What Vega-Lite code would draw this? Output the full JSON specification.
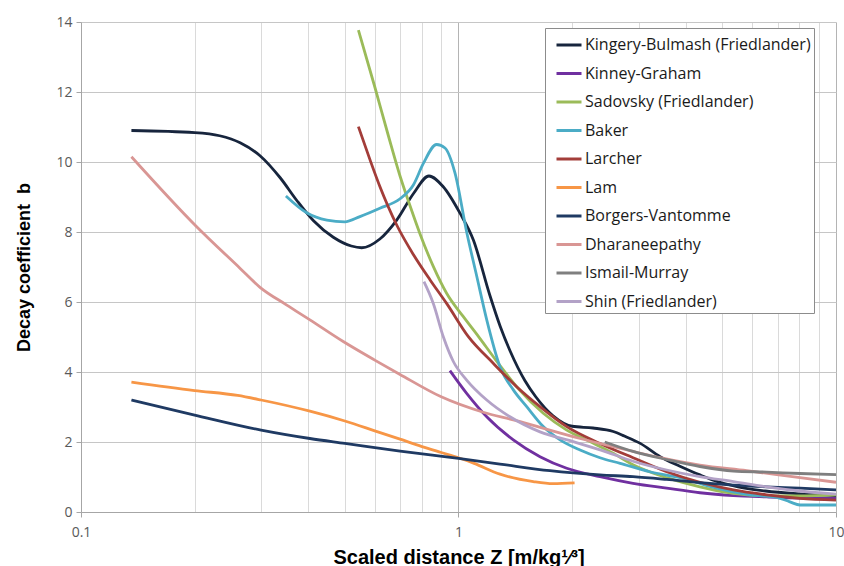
{
  "$schema": "https://vega.github.io/schema/vega-lite/v6.json",
  "autosize": {"type": "none"},
  "padding": {"left": 81, "top": 22, "right": 8, "bottom": 54},
  "width": 755,
  "height": 490,
  "background": "white",
  "config": {"view": {"stroke": null}},
  "data": {"values": [
    {"model": "Kingery-Bulmash (Friedlander)", "z": 0.136, "b": 10.9},
    {"model": "Kingery-Bulmash (Friedlander)", "z": 0.2, "b": 10.84},
    {"model": "Kingery-Bulmash (Friedlander)", "z": 0.233, "b": 10.75},
    {"model": "Kingery-Bulmash (Friedlander)", "z": 0.264, "b": 10.55},
    {"model": "Kingery-Bulmash (Friedlander)", "z": 0.298, "b": 10.18},
    {"model": "Kingery-Bulmash (Friedlander)", "z": 0.337, "b": 9.55},
    {"model": "Kingery-Bulmash (Friedlander)", "z": 0.373, "b": 8.9},
    {"model": "Kingery-Bulmash (Friedlander)", "z": 0.413, "b": 8.32},
    {"model": "Kingery-Bulmash (Friedlander)", "z": 0.466, "b": 7.85},
    {"model": "Kingery-Bulmash (Friedlander)", "z": 0.52, "b": 7.6},
    {"model": "Kingery-Bulmash (Friedlander)", "z": 0.554, "b": 7.55},
    {"model": "Kingery-Bulmash (Friedlander)", "z": 0.619, "b": 7.8},
    {"model": "Kingery-Bulmash (Friedlander)", "z": 0.686, "b": 8.34},
    {"model": "Kingery-Bulmash (Friedlander)", "z": 0.76, "b": 9.1},
    {"model": "Kingery-Bulmash (Friedlander)", "z": 0.835, "b": 9.6},
    {"model": "Kingery-Bulmash (Friedlander)", "z": 0.91, "b": 9.3},
    {"model": "Kingery-Bulmash (Friedlander)", "z": 1.01, "b": 8.53},
    {"model": "Kingery-Bulmash (Friedlander)", "z": 1.095, "b": 7.77},
    {"model": "Kingery-Bulmash (Friedlander)", "z": 1.21, "b": 6.2},
    {"model": "Kingery-Bulmash (Friedlander)", "z": 1.29, "b": 5.3},
    {"model": "Kingery-Bulmash (Friedlander)", "z": 1.37, "b": 4.6},
    {"model": "Kingery-Bulmash (Friedlander)", "z": 1.5, "b": 3.75},
    {"model": "Kingery-Bulmash (Friedlander)", "z": 1.6, "b": 3.3},
    {"model": "Kingery-Bulmash (Friedlander)", "z": 1.78, "b": 2.75},
    {"model": "Kingery-Bulmash (Friedlander)", "z": 2.0, "b": 2.45},
    {"model": "Kingery-Bulmash (Friedlander)", "z": 2.27, "b": 2.4},
    {"model": "Kingery-Bulmash (Friedlander)", "z": 2.57, "b": 2.3},
    {"model": "Kingery-Bulmash (Friedlander)", "z": 2.75, "b": 2.17},
    {"model": "Kingery-Bulmash (Friedlander)", "z": 3.03, "b": 1.96},
    {"model": "Kingery-Bulmash (Friedlander)", "z": 3.42, "b": 1.58},
    {"model": "Kingery-Bulmash (Friedlander)", "z": 3.86, "b": 1.31},
    {"model": "Kingery-Bulmash (Friedlander)", "z": 4.36, "b": 1.06},
    {"model": "Kingery-Bulmash (Friedlander)", "z": 4.73, "b": 0.91},
    {"model": "Kingery-Bulmash (Friedlander)", "z": 5.5, "b": 0.72},
    {"model": "Kingery-Bulmash (Friedlander)", "z": 6.5, "b": 0.6},
    {"model": "Kingery-Bulmash (Friedlander)", "z": 8.0, "b": 0.52},
    {"model": "Kingery-Bulmash (Friedlander)", "z": 10.0, "b": 0.47},

    {"model": "Kinney-Graham", "z": 0.949, "b": 4.04},
    {"model": "Kinney-Graham", "z": 1.051, "b": 3.39},
    {"model": "Kinney-Graham", "z": 1.188, "b": 2.72},
    {"model": "Kinney-Graham", "z": 1.397, "b": 2.06},
    {"model": "Kinney-Graham", "z": 1.644, "b": 1.58},
    {"model": "Kinney-Graham", "z": 1.935, "b": 1.25},
    {"model": "Kinney-Graham", "z": 2.37, "b": 1.01},
    {"model": "Kinney-Graham", "z": 2.9, "b": 0.82},
    {"model": "Kinney-Graham", "z": 3.56, "b": 0.68},
    {"model": "Kinney-Graham", "z": 4.36, "b": 0.55},
    {"model": "Kinney-Graham", "z": 5.35, "b": 0.47},
    {"model": "Kinney-Graham", "z": 6.55, "b": 0.43},
    {"model": "Kinney-Graham", "z": 8.03, "b": 0.4},
    {"model": "Kinney-Graham", "z": 10.0, "b": 0.39},

    {"model": "Sadovsky (Friedlander)", "z": 0.543, "b": 13.77},
    {"model": "Sadovsky (Friedlander)", "z": 0.6, "b": 12.15},
    {"model": "Sadovsky (Friedlander)", "z": 0.652, "b": 10.75},
    {"model": "Sadovsky (Friedlander)", "z": 0.7, "b": 9.6},
    {"model": "Sadovsky (Friedlander)", "z": 0.744, "b": 8.75},
    {"model": "Sadovsky (Friedlander)", "z": 0.79, "b": 7.96},
    {"model": "Sadovsky (Friedlander)", "z": 0.858, "b": 7.01},
    {"model": "Sadovsky (Friedlander)", "z": 0.93, "b": 6.25},
    {"model": "Sadovsky (Friedlander)", "z": 1.03, "b": 5.58},
    {"model": "Sadovsky (Friedlander)", "z": 1.13, "b": 5.01},
    {"model": "Sadovsky (Friedlander)", "z": 1.256, "b": 4.34},
    {"model": "Sadovsky (Friedlander)", "z": 1.45, "b": 3.49},
    {"model": "Sadovsky (Friedlander)", "z": 1.677, "b": 2.82},
    {"model": "Sadovsky (Friedlander)", "z": 1.935, "b": 2.34},
    {"model": "Sadovsky (Friedlander)", "z": 2.2, "b": 2.04},
    {"model": "Sadovsky (Friedlander)", "z": 2.57, "b": 1.68},
    {"model": "Sadovsky (Friedlander)", "z": 2.9, "b": 1.35},
    {"model": "Sadovsky (Friedlander)", "z": 3.56, "b": 0.98},
    {"model": "Sadovsky (Friedlander)", "z": 4.36, "b": 0.72},
    {"model": "Sadovsky (Friedlander)", "z": 5.35, "b": 0.53},
    {"model": "Sadovsky (Friedlander)", "z": 6.55, "b": 0.46},
    {"model": "Sadovsky (Friedlander)", "z": 8.03, "b": 0.46},
    {"model": "Sadovsky (Friedlander)", "z": 10.0, "b": 0.49},

    {"model": "Baker", "z": 0.349, "b": 9.03},
    {"model": "Baker", "z": 0.396, "b": 8.55},
    {"model": "Baker", "z": 0.448, "b": 8.34},
    {"model": "Baker", "z": 0.5, "b": 8.29},
    {"model": "Baker", "z": 0.548, "b": 8.44},
    {"model": "Baker", "z": 0.619, "b": 8.68},
    {"model": "Baker", "z": 0.7, "b": 8.95},
    {"model": "Baker", "z": 0.76, "b": 9.35},
    {"model": "Baker", "z": 0.807, "b": 9.96},
    {"model": "Baker", "z": 0.875, "b": 10.5},
    {"model": "Baker", "z": 0.921, "b": 10.4},
    {"model": "Baker", "z": 0.979, "b": 9.68},
    {"model": "Baker", "z": 1.051, "b": 8.0},
    {"model": "Baker", "z": 1.117, "b": 6.75},
    {"model": "Baker", "z": 1.188, "b": 5.49},
    {"model": "Baker", "z": 1.288, "b": 4.15},
    {"model": "Baker", "z": 1.397, "b": 3.49},
    {"model": "Baker", "z": 1.516, "b": 3.01},
    {"model": "Baker", "z": 1.677, "b": 2.44},
    {"model": "Baker", "z": 1.858, "b": 2.06},
    {"model": "Baker", "z": 2.099, "b": 1.77},
    {"model": "Baker", "z": 2.37, "b": 1.55},
    {"model": "Baker", "z": 2.68, "b": 1.39},
    {"model": "Baker", "z": 3.21, "b": 1.15},
    {"model": "Baker", "z": 3.94, "b": 0.96},
    {"model": "Baker", "z": 4.83, "b": 0.68},
    {"model": "Baker", "z": 5.92, "b": 0.49},
    {"model": "Baker", "z": 6.96, "b": 0.42},
    {"model": "Baker", "z": 7.55, "b": 0.29},
    {"model": "Baker", "z": 8.03, "b": 0.2},
    {"model": "Baker", "z": 10.0, "b": 0.2},

    {"model": "Larcher", "z": 0.543, "b": 11.01},
    {"model": "Larcher", "z": 0.583, "b": 10.06},
    {"model": "Larcher", "z": 0.619, "b": 9.3},
    {"model": "Larcher", "z": 0.686, "b": 8.2},
    {"model": "Larcher", "z": 0.76, "b": 7.35},
    {"model": "Larcher", "z": 0.841, "b": 6.63},
    {"model": "Larcher", "z": 0.93, "b": 5.96},
    {"model": "Larcher", "z": 1.062, "b": 5.01},
    {"model": "Larcher", "z": 1.236, "b": 4.25},
    {"model": "Larcher", "z": 1.426, "b": 3.58},
    {"model": "Larcher", "z": 1.644, "b": 3.01},
    {"model": "Larcher", "z": 1.935, "b": 2.44},
    {"model": "Larcher", "z": 2.37, "b": 1.96},
    {"model": "Larcher", "z": 2.9, "b": 1.55},
    {"model": "Larcher", "z": 3.56, "b": 1.15},
    {"model": "Larcher", "z": 4.36, "b": 0.85},
    {"model": "Larcher", "z": 5.35, "b": 0.63},
    {"model": "Larcher", "z": 6.55, "b": 0.49},
    {"model": "Larcher", "z": 8.03, "b": 0.39},
    {"model": "Larcher", "z": 10.0, "b": 0.34},

    {"model": "Lam", "z": 0.136, "b": 3.71},
    {"model": "Lam", "z": 0.2, "b": 3.47},
    {"model": "Lam", "z": 0.26, "b": 3.33},
    {"model": "Lam", "z": 0.3, "b": 3.2},
    {"model": "Lam", "z": 0.404, "b": 2.88},
    {"model": "Lam", "z": 0.5, "b": 2.6},
    {"model": "Lam", "z": 0.6, "b": 2.32},
    {"model": "Lam", "z": 0.7, "b": 2.08},
    {"model": "Lam", "z": 0.8, "b": 1.87},
    {"model": "Lam", "z": 0.9, "b": 1.7},
    {"model": "Lam", "z": 1.0, "b": 1.55},
    {"model": "Lam", "z": 1.1, "b": 1.39},
    {"model": "Lam", "z": 1.288, "b": 1.08},
    {"model": "Lam", "z": 1.578, "b": 0.87},
    {"model": "Lam", "z": 1.78, "b": 0.81},
    {"model": "Lam", "z": 2.03, "b": 0.83},

    {"model": "Borgers-Vantomme", "z": 0.136, "b": 3.2},
    {"model": "Borgers-Vantomme", "z": 0.2, "b": 2.77},
    {"model": "Borgers-Vantomme", "z": 0.3, "b": 2.34},
    {"model": "Borgers-Vantomme", "z": 0.404, "b": 2.1},
    {"model": "Borgers-Vantomme", "z": 0.5, "b": 1.96},
    {"model": "Borgers-Vantomme", "z": 0.7, "b": 1.74},
    {"model": "Borgers-Vantomme", "z": 1.0, "b": 1.53},
    {"model": "Borgers-Vantomme", "z": 1.288, "b": 1.37},
    {"model": "Borgers-Vantomme", "z": 1.747, "b": 1.18},
    {"model": "Borgers-Vantomme", "z": 2.37, "b": 1.06},
    {"model": "Borgers-Vantomme", "z": 2.9, "b": 1.01},
    {"model": "Borgers-Vantomme", "z": 3.56, "b": 0.93},
    {"model": "Borgers-Vantomme", "z": 4.36, "b": 0.84},
    {"model": "Borgers-Vantomme", "z": 5.35, "b": 0.77},
    {"model": "Borgers-Vantomme", "z": 6.55, "b": 0.72},
    {"model": "Borgers-Vantomme", "z": 8.03, "b": 0.68},
    {"model": "Borgers-Vantomme", "z": 10.0, "b": 0.63},

    {"model": "Dharaneepathy", "z": 0.136, "b": 10.15},
    {"model": "Dharaneepathy", "z": 0.2025, "b": 8.15},
    {"model": "Dharaneepathy", "z": 0.264, "b": 6.96},
    {"model": "Dharaneepathy", "z": 0.298, "b": 6.42},
    {"model": "Dharaneepathy", "z": 0.35, "b": 5.92},
    {"model": "Dharaneepathy", "z": 0.404, "b": 5.49},
    {"model": "Dharaneepathy", "z": 0.495, "b": 4.87},
    {"model": "Dharaneepathy", "z": 0.6, "b": 4.34},
    {"model": "Dharaneepathy", "z": 0.7, "b": 3.93},
    {"model": "Dharaneepathy", "z": 0.9, "b": 3.29},
    {"model": "Dharaneepathy", "z": 1.163, "b": 2.85},
    {"model": "Dharaneepathy", "z": 1.397, "b": 2.63},
    {"model": "Dharaneepathy", "z": 2.1, "b": 2.1},
    {"model": "Dharaneepathy", "z": 2.85, "b": 1.75},
    {"model": "Dharaneepathy", "z": 3.5, "b": 1.53},
    {"model": "Dharaneepathy", "z": 4.36, "b": 1.34},
    {"model": "Dharaneepathy", "z": 5.8, "b": 1.18},
    {"model": "Dharaneepathy", "z": 8.03, "b": 0.98},
    {"model": "Dharaneepathy", "z": 10.0, "b": 0.85},

    {"model": "Ismail-Murray", "z": 2.44, "b": 2.0},
    {"model": "Ismail-Murray", "z": 2.9, "b": 1.73},
    {"model": "Ismail-Murray", "z": 3.56, "b": 1.5},
    {"model": "Ismail-Murray", "z": 4.36, "b": 1.3},
    {"model": "Ismail-Murray", "z": 5.35, "b": 1.17},
    {"model": "Ismail-Murray", "z": 6.55, "b": 1.14},
    {"model": "Ismail-Murray", "z": 8.03, "b": 1.1},
    {"model": "Ismail-Murray", "z": 10.0, "b": 1.07},

    {"model": "Shin (Friedlander)", "z": 0.81, "b": 6.58},
    {"model": "Shin (Friedlander)", "z": 0.858, "b": 5.95},
    {"model": "Shin (Friedlander)", "z": 0.912, "b": 5.0},
    {"model": "Shin (Friedlander)", "z": 0.969, "b": 4.3},
    {"model": "Shin (Friedlander)", "z": 1.051, "b": 3.77},
    {"model": "Shin (Friedlander)", "z": 1.188, "b": 3.2},
    {"model": "Shin (Friedlander)", "z": 1.369, "b": 2.72},
    {"model": "Shin (Friedlander)", "z": 1.644, "b": 2.29},
    {"model": "Shin (Friedlander)", "z": 2.014, "b": 2.01},
    {"model": "Shin (Friedlander)", "z": 2.46, "b": 1.72},
    {"model": "Shin (Friedlander)", "z": 2.9, "b": 1.45},
    {"model": "Shin (Friedlander)", "z": 3.56, "b": 1.2},
    {"model": "Shin (Friedlander)", "z": 4.36, "b": 1.01},
    {"model": "Shin (Friedlander)", "z": 5.35, "b": 0.87},
    {"model": "Shin (Friedlander)", "z": 6.55, "b": 0.72},
    {"model": "Shin (Friedlander)", "z": 8.03, "b": 0.6},
    {"model": "Shin (Friedlander)", "z": 10.0, "b": 0.51}
  ]},
  "mark": {"type": "line", "interpolate": "monotone", "strokeWidth": 2.8, "clip": true},
  "encoding": {
    "x": {
      "field": "z", "type": "quantitative",
      "scale": {"type": "log", "domain": [0.1, 10], "nice": false},
      "axis": {
        "values": [0.1, 0.2, 0.3, 0.4, 0.5, 0.6, 0.7, 0.8, 0.9, 1, 2, 3, 4, 5, 6, 7, 8, 9, 10],
        "labelExpr": "(datum.value == 0.1 || datum.value == 1 || datum.value == 10) ? datum.label : ''",
        "format": "~g",
        "grid": true,
        "gridColor": {"condition": {"test": "datum.value == 1 || datum.value == 10", "value": "#b4b4b4"}, "value": "#dadada"},
        "gridWidth": 1,
        "tickOpacity": {"condition": {"test": "datum.value == 0.1 || datum.value == 1 || datum.value == 10", "value": 1}, "value": 0},
        "tickColor": "#a6a6a6",
        "tickSize": 5,
        "domainColor": "#a6a6a6",
        "labelFont": "Open Sans",
        "labelFontSize": 14,
        "labelColor": "#595959",
        "labelPadding": 8,
        "labelFlush": false,
        "labelOverlap": false,
        "title": "Scaled distance Z [m/kg\u00b9\u2044\u00b3]",
        "titleFont": "Liberation Sans",
        "titleFontSize": 20,
        "titleFontWeight": "bold",
        "titleColor": "#000000",
        "titlePadding": 8
      }
    },
    "y": {
      "field": "b", "type": "quantitative",
      "scale": {"domain": [0, 14], "nice": false},
      "axis": {
        "values": [0, 2, 4, 6, 8, 10, 12, 14],
        "grid": true,
        "gridColor": "#c6c6c6",
        "tickColor": "#a6a6a6",
        "tickSize": 5,
        "domainColor": "#a6a6a6",
        "labelFont": "Open Sans",
        "labelFontSize": 14,
        "labelColor": "#595959",
        "labelPadding": 4,
        "title": "Decay coefficient\u00a0 b",
        "titleFont": "Liberation Sans",
        "titleFontSize": 18,
        "titleFontWeight": "bold",
        "titleColor": "#000000",
        "titlePadding": 22
      }
    },
    "color": {
      "field": "model", "type": "nominal",
      "scale": {
        "domain": ["Kingery-Bulmash (Friedlander)", "Kinney-Graham", "Sadovsky (Friedlander)", "Baker", "Larcher", "Lam", "Borgers-Vantomme", "Dharaneepathy", "Ismail-Murray", "Shin (Friedlander)"],
        "range": ["#17253d", "#7030a0", "#9bbb59", "#4bacc6", "#a33d39", "#f79646", "#1f3a63", "#d99694", "#7f7f7f", "#b3a2c7"]
      },
      "legend": {
        "orient": "none",
        "legendX": 464,
        "legendY": 6,
        "title": null,
        "padding": 3,
        "fillColor": "white",
        "strokeColor": "#8c8c8c",
        "symbolType": "stroke",
        "symbolSize": 625,
        "symbolStrokeWidth": 3,
        "symbolOffset": 7,
        "labelFont": "Open Sans",
        "labelFontSize": 16,
        "labelColor": "#1a1a1a",
        "labelOffset": 2,
        "labelLimit": 300,
        "rowPadding": 6.5
      }
    }
  }
}
